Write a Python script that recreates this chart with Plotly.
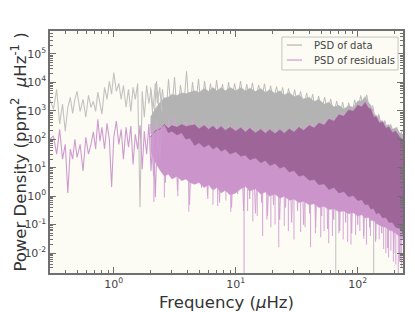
import numpy as np
import plotly.graph_objects as go

# ---------------- data ----------------
# low-frequency part, where single samples are still visible
LOW_F = [0.30, 0.32, 0.34, 0.36, 0.38, 0.40, 0.42, 0.44, 0.46, 0.48,
         0.50, 0.53, 0.56, 0.59, 0.62, 0.65, 0.68, 0.71, 0.74, 0.77,
         0.80, 0.84, 0.88, 0.92, 0.96, 1.00, 1.05, 1.10, 1.15, 1.20,
         1.26, 1.32, 1.38, 1.44, 1.50, 1.57, 1.64, 1.71, 1.78, 1.86,
         1.94, 2.02, 2.10, 2.19, 2.28, 2.38, 2.48]
DATA_LOW = [2.5e3, 1.12e3, 5.6e3, 3.4e2, 1.7e3, 1.9e2, 1.32e3, 2.95e3, 8.1e2, 2.5e3,
            4.8e3, 9.5e2, 2.5e3, 5.9e2, 3.5e3, 1.32e3, 2.15e3, 9.5e2, 4.5e3, 1.7e3,
            7.6e2, 6.6e3, 2.5e3, 1.07e4, 3.8e3, 2.2e4, 4.8e3, 9.1e3, 2.5e3, 7.8e3,
            1.32e3, 5.6e3, 9.5e2, 6.6e3, 2.5e3, 9.1e3, 0.41, 4.8e3, 5.9e2, 7.8e3,
            1.82e3, 5.6e3, 1.12e3, 9.1e3, 1.82e3, 6.6e3, 9.5e2]
RESID_LOW = [1.0e2, 1.3e2, 30, 2.2e2, 20, 66, 1.3, 45, 20, 1.0e2,
             23, 66, 7.6, 1.17e2, 30, 66, 1.8e2, 45, 5.0e2, 85,
             2.6e2, 45, 3.6e2, 1.0e2, 2.1, 1.17e2, 4.3e2, 66, 2.2e2, 20,
             2.6e2, 52, 2.9e2, 13, 1.5e2, 45, 3.1e2, 8.9, 1.9e2, 30,
             3.4e2, 7.6, 2.2e2, 0.91, 2.6e2, 20, 2.9e2]

# dense part: alternate high / low samples (spiky fringe)
ZZ_F = [2.0, 2.12, 2.24, 2.37, 2.51, 2.65, 2.81, 2.97, 3.15, 3.33,
        3.52, 3.73, 3.95, 4.18, 4.42, 4.68, 4.95, 5.24, 5.55, 5.87,
        6.21, 6.57, 6.96, 7.36, 7.79, 8.25, 8.73, 9.24, 9.78, 10.35,
        10.95, 11.6, 12.3, 13.0, 13.7, 14.5, 15.4, 16.3, 17.2, 18.2,
        19.3, 20.4, 21.6, 22.9, 24.2, 25.6, 27.1, 28.7, 30.4, 32.1,
        34.0, 36.0, 38.1, 40.3, 42.7, 45.2, 47.8, 50.6, 53.5, 56.7,
        60.0, 63.5, 67.2, 71.1, 75.2, 79.6, 84.3, 89.2, 94.4, 99.9,
        105.7, 111.9, 118.4, 125.3, 132.6, 140.4, 148.6, 157.2, 166.4, 176.1,
        186.4, 197.3, 208.8, 221.0, 233.9]
DATA_ZZ = [6.6e3, 3.0e2, 1.07e4, 6.0e2, 5.6e3, 4.0e2, 1.26e4, 8.0e2, 1.48e4, 5.0e2,
           8.0e3, 1.2e3, 2.4e4, 7.0e2, 1.0e4, 1.5e3, 1.3e4, 9.0e2, 1.1e4, 1.8e3,
           9.0e3, 1.2e3, 1.2e4, 2.0e3, 8.5e3, 1.5e3, 1.0e4, 2.0e3, 9.0e3, 2.5e3,
           1.1e4, 2.0e3, 8.5e3, 2.5e3, 9.5e3, 2.2e3, 8.0e3, 2.5e3, 8.8e3, 2.0e3,
           7.5e3, 2.2e3, 7.0e3, 2.0e3, 6.5e3, 1.8e3, 6.0e3, 1.6e3, 5.5e3, 1.5e3,
           4.8e3, 1.3e3, 4.2e3, 1.2e3, 3.8e3, 1.0e3, 3.3e3, 9.0e2, 3.0e3, 8.0e2,
           2.6e3, 7.0e2, 2.2e3, 6.0e2, 2.0e3, 6.0e2, 1.9e3, 7.0e2, 2.4e3, 9.0e2,
           3.4e3, 1.2e3, 3.6e3, 1.0e3, 1.5e3, 4.0e2, 7.5e2, 2.5e2, 4.5e2, 2.0e2,
           3.3e2, 1.6e2, 2.6e2, 1.3e2, 2.1e2]
RESID_ZZ = [3.5e2, 5.0, 4.5e2, 12, 3.0e2, 3.0, 5.0e2, 8.0, 6.0e2, 1.5,
            3.5e2, 6.0, 4.0e2, 0.5, 5.5e2, 4.0, 3.0e2, 2.0, 4.5e2, 1.0,
            3.5e2, 3.0, 4.0e2, 0.6, 3.0e2, 1.5, 3.5e2, 0.4, 2.8e2, 1.2,
            3.2e2, 0.3, 2.5e2, 0.8, 2.8e2, 0.25, 2.2e2, 0.6, 2.5e2, 0.2,
            2.0e2, 0.5, 2.4e2, 0.15, 2.0e2, 0.4, 2.3e2, 0.12, 2.2e2, 0.3,
            2.8e2, 0.1, 3.0e2, 0.25, 3.6e2, 0.08, 4.0e2, 0.2, 4.8e2, 0.07,
            5.5e2, 0.15, 7.0e2, 0.06, 8.5e2, 0.12, 1.1e3, 0.05, 1.4e3, 0.1,
            1.8e3, 0.04, 2.2e3, 0.08, 1.2e3, 0.03, 6.5e2, 0.05, 4.0e2, 0.015,
            2.8e2, 0.01, 2.0e2, 0.005, 1.3e2]

# dense part: envelopes of the solid-looking body
BAND_F = [2.0, 2.2, 2.4, 2.6, 2.8, 3.0, 3.3, 3.6, 3.9, 4.2,
          4.6, 5.0, 5.5, 6.0, 6.5, 7.0, 7.6, 8.2, 9.0, 10,
          11, 12, 13, 14.5, 16, 17.5, 19, 21, 23, 25,
          27.5, 30, 33, 36, 40, 44, 48, 53, 58, 64,
          70, 77, 84, 92, 100, 108, 115, 122, 128, 135,
          142, 150, 160, 170, 180, 192, 205, 220, 235]
DATA_TOP = [600, 1200, 2000, 2800, 3000, 3800, 3400, 4200, 4000, 4400,
            5000, 4400, 6000, 4800, 6500, 5000, 6500, 5000, 6500, 5000,
            6500, 4900, 6200, 4700, 6000, 4400, 5500, 4000, 5000, 3600,
            4400, 3100, 3600, 2600, 3000, 2100, 2500, 1700, 2000, 1350,
            1550, 1150, 1500, 1300, 2200, 2200, 3100, 2000, 1550, 750,
            700, 450, 440, 290, 330, 220, 250, 170, 145]
DATA_FLOOR = [160, 130, 160, 130, 160, 130, 160, 130, 160, 130,
              160, 130, 160, 130, 160, 130, 160, 130, 160, 130,
              60, 60, 60, 60, 60, 60, 60, 60, 60, 60,
              60, 60, 60, 60, 60, 60, 60, 60, 60, 60,
              60, 60, 60, 60, 60, 60, 60, 60, 60, 60,
              60, 60, 60, 60, 60, 60, 60, 60, 60]
RESID_TOP = [120, 200, 230, 330, 240, 300, 260, 330, 280, 300,
             320, 230, 300, 220, 290, 210, 280, 200, 260, 190,
             250, 175, 240, 165, 220, 160, 215, 155, 215, 160,
             230, 175, 260, 200, 300, 245, 370, 310, 500, 430,
             720, 640, 1050, 950, 1550, 1350, 1950, 1250, 1150, 600,
             600, 370, 400, 240, 270, 170, 190, 120, 95]
RESID_CORE_BOTTOM = [120, 200, 230, 330, 170, 190, 140, 170, 100, 110,
                     60, 75, 52, 65, 45, 55, 38, 45, 30, 36,
                     25, 28, 19, 22, 15, 18, 12, 14, 9.5, 11,
                     7, 8, 5, 5.5, 3.6, 3.8, 2.5, 2.7, 1.7, 2.0,
                     1.3, 1.45, 0.95, 1.05, 0.7, 0.75, 0.5, 0.52, 0.35, 0.37,
                     0.24, 0.26, 0.17, 0.18, 0.12, 0.12, 0.08, 0.075, 0.05]
RESID_BODY_BOTTOM = [40, 15, 8, 5, 6, 4, 5, 3.5, 4, 3,
                     2.6, 3.0, 2.0, 2.5, 1.6, 2.0, 1.3, 1.6, 1.1, 1.3,
                     1.8, 2.2, 1.5, 1.8, 1.2, 1.4, 1.0, 1.2, 0.84, 1.0,
                     0.72, 0.8, 0.6, 0.66, 0.5, 0.54, 0.4, 0.44, 0.34, 0.36,
                     0.28, 0.3, 0.24, 0.26, 0.2, 0.22, 0.17, 0.18, 0.14, 0.14,
                     0.11, 0.1, 0.084, 0.08, 0.064, 0.06, 0.048, 0.04, 0.032]

# isolated deep dips
RESID_DIP_F = [2.13, 2.6, 3.35, 4.12, 5.9, 6.5, 7.1, 8.3, 9.1, 11.7,
               12.5, 13.8, 15, 16.6, 18, 19.4, 21, 22.5, 25, 27,
               30, 34, 37, 41, 45, 49.7, 53, 57.8, 62, 70,
               76, 82.6, 88, 96, 104, 112, 118, 127, 140, 150,
               163, 170, 179, 187, 196, 205, 215, 222, 229]
RESID_DIP_MIN = [0.62, 0.9, 1.0, 0.28, 0.8, 0.5, 0.45, 0.7, 0.28, 0.002,
                 0.3, 0.13, 0.2, 0.04, 0.15, 0.08, 0.1, 0.016, 0.09, 0.06,
                 0.03, 0.055, 0.08, 0.016, 0.05, 0.036, 0.06, 0.022, 0.04, 0.05,
                 0.03, 0.025, 0.02, 0.043, 0.06, 0.032, 0.02, 0.04, 0.025, 0.03,
                 0.014, 0.01, 0.007, 0.012, 0.005, 0.004, 0.002, 0.006, 0.0032]
DATA_DIP_F = [66, 135]
DATA_DIP_MIN = [0.002, 0.002]

YTICK_VALS = [1e-2, 1e-1, 1e0, 1e1, 1e2, 1e3, 1e4, 1e5]
YTICK_TEXT = ["10<sup>-2</sup>", "10<sup>-1</sup>", "10<sup>0</sup>", "10<sup>1</sup>",
              "10<sup>2</sup>", "10<sup>3</sup>", "10<sup>4</sup>", "10<sup>5</sup>"]
XTICK_VALS = [1e0, 1e1, 1e2]
XTICK_TEXT = ["10<sup>0</sup>", "10<sup>1</sup>", "10<sup>2</sup>"]
LEGEND_NAMES = ["PSD of data", "PSD of residuals"]
NB = "\u00a0"
Y_TITLE = ("Power Density (ppm<sup>2</sup>" + NB * 2 + "<i>μ</i>Hz<sup>-1</sup>" + NB + ")")
X_TITLE = "Frequency (<i>μ</i>Hz)"

# ---------------- styles ----------------
GRAY_DENSE = "#b3b3b3"
GRAY_FRINGE = "#bababa"
GRAY_LINE = "#c3c3c1"
PURPLE_CORE = "#9d6598"
PURPLE_BODY = "#cb95cb"
PURPLE_FRINGE = "#d3a4d3"
PURPLE_LINE = "#cf9bcf"
PURPLE_DIP = "#d8acd8"
FRAME = "#707070"


def band(f, top, bottom):
    return list(f) + list(f)[::-1], list(top) + list(bottom)[::-1]


def dips(freqs, mins, base_f, base_v):
    base = 10 ** np.interp(np.log10(freqs), np.log10(base_f), np.log10(base_v))
    xs, ys = [], []
    for f, b, m in zip(freqs, base, mins):
        xs += [f, f, None]
        ys += [b, m, None]
    return xs, ys


def line(x, y, color, width=1.0):
    return go.Scatter(x=x, y=y, mode="lines", line=dict(color=color, width=width),
                      showlegend=False, hoverinfo="skip")


def fill(x, y, color):
    return go.Scatter(x=x, y=y, mode="lines", fill="toself", fillcolor=color,
                      line=dict(color=color, width=0.5), showlegend=False, hoverinfo="skip")


fig = go.Figure()
# --- PSD of data (gray)
fig.add_trace(line(ZZ_F, DATA_ZZ, GRAY_FRINGE, 1.0))
fig.add_trace(fill(*band(BAND_F, DATA_TOP, DATA_FLOOR), GRAY_DENSE))
fig.add_trace(line(LOW_F, DATA_LOW, GRAY_LINE, 1.1))
fig.add_trace(line(*dips(DATA_DIP_F, DATA_DIP_MIN, BAND_F, DATA_FLOOR), "#c8c8c8", 1.2))
# --- PSD of residuals (purple)
fig.add_trace(line(*dips(RESID_DIP_F, RESID_DIP_MIN, BAND_F, RESID_BODY_BOTTOM), PURPLE_DIP, 1.1))
fig.add_trace(line(ZZ_F, RESID_ZZ, PURPLE_FRINGE, 1.0))
fig.add_trace(fill(*band(BAND_F, RESID_TOP, RESID_BODY_BOTTOM), PURPLE_BODY))
fig.add_trace(fill(*band(BAND_F, RESID_TOP, RESID_CORE_BOTTOM), PURPLE_CORE))
fig.add_trace(line(LOW_F, RESID_LOW, PURPLE_LINE, 1.1))

minor_x = [d * 10 ** e for e in range(-1, 3) for d in range(2, 10)]
minor_y = [d * 10 ** e for e in range(-3, 6) for d in range(2, 10)]

axis_common = dict(type="log", showgrid=False, zeroline=False, showline=True, automargin=False,
                   linecolor=FRAME, linewidth=1.5, mirror="allticks",
                   ticks="inside", ticklen=6, tickwidth=1, tickcolor=FRAME,
                   tickfont=dict(family="DejaVu Sans", size=11, color="#444"))

fig.update_xaxes(range=[np.log10(0.3), np.log10(235)], tickvals=XTICK_VALS, ticktext=XTICK_TEXT,
                 minor=dict(ticks="inside", ticklen=3, tickcolor=FRAME, tickvals=minor_x),
                 title=dict(text=X_TITLE, font=dict(size=16.5, color="#333"), standoff=10),
                 **axis_common)
fig.update_yaxes(range=[-2.7, 5.8], tickvals=YTICK_VALS, ticktext=YTICK_TEXT,
                 minor=dict(ticks="inside", ticklen=3, tickcolor=FRAME, tickvals=minor_y),
                 title=dict(text=Y_TITLE, font=dict(size=16.5, color="#333"), standoff=6),
                 **axis_common)

# hand-placed legend (matplotlib-like compact box)
fig.add_shape(type="rect", xref="paper", yref="paper", x0=0.657, x1=0.986, y0=0.839, y1=0.975,
              line=dict(color="#c4c4c4", width=1), fillcolor="rgba(252,252,244,0.92)", layer="above")
for name, color, yy in zip(LEGEND_NAMES, [GRAY_DENSE, PURPLE_LINE], [0.942, 0.880]):
    fig.add_shape(type="line", xref="paper", yref="paper", x0=0.671, x1=0.714, y0=yy, y1=yy,
                  line=dict(color=color, width=1.2), layer="above")
    fig.add_annotation(text=name, xref="paper", yref="paper", x=0.742, y=yy, xanchor="left",
                       yanchor="middle", showarrow=False, font=dict(size=10, color="#444"))

# the page body adds an 8 px offset, so the figure is 8 px smaller and margins shifted
fig.update_layout(
    width=407, height=304,
    margin=dict(l=42, r=12, t=23, b=39),
    paper_bgcolor="white", plot_bgcolor="#fcfcf4",
    font=dict(family="DejaVu Sans", size=11, color="#444"),
    showlegend=False,
)

fig.write_html("out.html")
